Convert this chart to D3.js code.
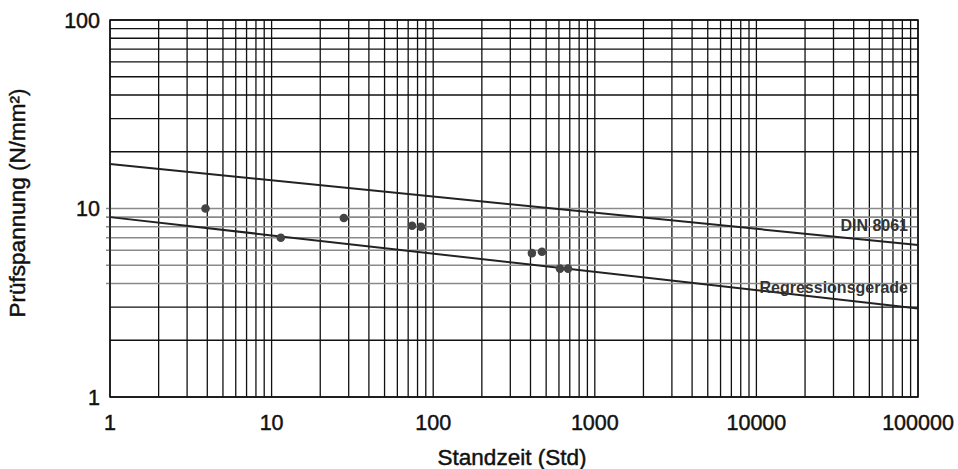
<!DOCTYPE html>
<html>
<head>
<meta charset="utf-8">
<script src="https://cdn.jsdelivr.net/npm/d3@7"></script>
<style>
  body { margin: 0; background: #fff; }
  text { font-family: "Liberation Sans", Arial, Helvetica, sans-serif; fill: #111; }
  .heavy { stroke: #111; stroke-width: 0.45; }
</style>
</head>
<body>
<svg id="chart" width="958" height="469"></svg>
<script>
// data
const xTickValues = [1, 10, 100, 1000, 10000, 100000];
const xTickLabels = ['1', '10', '100', '1000', '10000', '100000'];
const yTickValues = [1, 10, 100];
const yTickLabels = ['1', '10', '100'];

// measured points (Standzeit in h, Prüfspannung in N/mm²)
const pointHours  = [3.9, 11.4, 28, 74, 84, 408, 471, 609, 683];
const pointStress = [10.0, 7.0, 8.9, 8.1, 8.0, 5.8, 5.9, 4.8, 4.8];

// the two straight lines (end values at x = 1 and x = 100000)
const dinLine = [[1, 17.2], [100000, 6.4]];
const regLine = [[1, 9.0], [100000, 2.95]];

// grey band of horizontal grid lines in the lower decade
const greyRows = [4, 5, 6, 7, 8, 9, 10];

const margin = { left: 110, right: 40, top: 20, bottom: 72 };
const width = 958, height = 469;

const svg = d3.select('#chart');

const x = d3.scaleLog()
    .domain([1, 100000])
    .range([margin.left, width - margin.right]);

const y = d3.scaleLog()
    .domain([1, 100])
    .range([height - margin.bottom, margin.top]);

// grid values: 1..10 in every decade
const gridX = [];
for (let d = 1; d < 100000; d *= 10) {
    for (let k = 1; k <= 10; k++) gridX.push(d * k);
}
const gridY = [];
for (let d = 1; d < 100; d *= 10) {
    for (let k = 1; k <= 10; k++) gridY.push(d * k);
}

const g = svg.append('g');

// vertical grid
g.append('g')
    .attr('class', 'grid-x')
    .selectAll('line')
    .data(Array.from(new Set(gridX)))
    .enter()
    .append('line')
    .attr('x1', d => x(d))
    .attr('x2', d => x(d))
    .attr('y1', y(100))
    .attr('y2', y(1))
    .attr('stroke', '#111')
    .attr('stroke-width', 1.3);

// horizontal grid
g.append('g')
    .attr('class', 'grid-y')
    .selectAll('line')
    .data(Array.from(new Set(gridY)))
    .enter()
    .append('line')
    .attr('x1', d => greyRows.includes(d) ? x(1) - 4 : x(1))
    .attr('x2', x(100000))
    .attr('y1', d => y(d))
    .attr('y2', d => y(d))
    .attr('stroke', d => greyRows.includes(d) ? '#8a8a8a' : '#111')
    .attr('stroke-width', d => greyRows.includes(d) ? 1.6 : 1.3);

// frame
g.append('rect')
    .attr('x', x(1))
    .attr('y', y(100))
    .attr('width', x(100000) - x(1))
    .attr('height', y(1) - y(100))
    .attr('fill', 'none')
    .attr('stroke', '#111')
    .attr('stroke-width', 1.5);

// the two lines
const line = d3.line()
    .x(d => x(d[0]))
    .y(d => y(d[1]));

g.append('path')
    .datum(dinLine)
    .attr('d', line)
    .attr('fill', 'none')
    .attr('stroke', '#222')
    .attr('stroke-width', 2);

g.append('path')
    .datum(regLine)
    .attr('d', line)
    .attr('fill', 'none')
    .attr('stroke', '#222')
    .attr('stroke-width', 2);

// points
g.append('g')
    .selectAll('circle')
    .data(pointHours.map((h, i) => [h, pointStress[i]]))
    .enter()
    .append('circle')
    .attr('cx', d => x(d[0]))
    .attr('cy', d => y(d[1]))
    .attr('r', 4.3)
    .attr('fill', '#444');

// line labels
g.append('text')
    .attr('x', x(100000) - 10)
    .attr('y', y(7.6))
    .attr('text-anchor', 'end')
    .attr('font-size', 16)
    .attr('font-weight', 'bold')
    .style('fill', '#333')
    .text('DIN 8061');

g.append('text')
    .attr('x', x(100000) - 10)
    .attr('y', y(3.55))
    .attr('text-anchor', 'end')
    .attr('font-size', 16)
    .attr('font-weight', 'bold')
    .style('fill', '#333')
    .text('Regressionsgerade');

// tick labels
g.append('g')
    .selectAll('text')
    .data(xTickValues)
    .enter()
    .append('text')
    .attr('class', 'heavy')
    .attr('x', d => x(d))
    .attr('y', height - margin.bottom + 33)
    .attr('text-anchor', 'middle')
    .attr('font-size', 21.5)
    .text((d, i) => xTickLabels[i]);

g.append('g')
    .selectAll('text')
    .data(yTickValues)
    .enter()
    .append('text')
    .attr('class', 'heavy')
    .attr('x', margin.left - 10)
    .attr('y', d => y(d))
    .attr('dy', '0.35em')
    .attr('text-anchor', 'end')
    .attr('font-size', 21.5)
    .text((d, i) => yTickLabels[i]);

// axis titles
svg.append('text')
    .attr('class', 'heavy')
    .attr('x', 512)
    .attr('y', 465)
    .attr('text-anchor', 'middle')
    .attr('font-size', 22.5)
    .text('Standzeit (Std)');

svg.append('text')
    .attr('class', 'heavy')
    .attr('transform', 'translate(25,203) rotate(-90)')
    .attr('text-anchor', 'middle')
    .attr('font-size', 22.5)
    .text('Prüfspannung (N/mm²)');
</script>
</body>
</html>
